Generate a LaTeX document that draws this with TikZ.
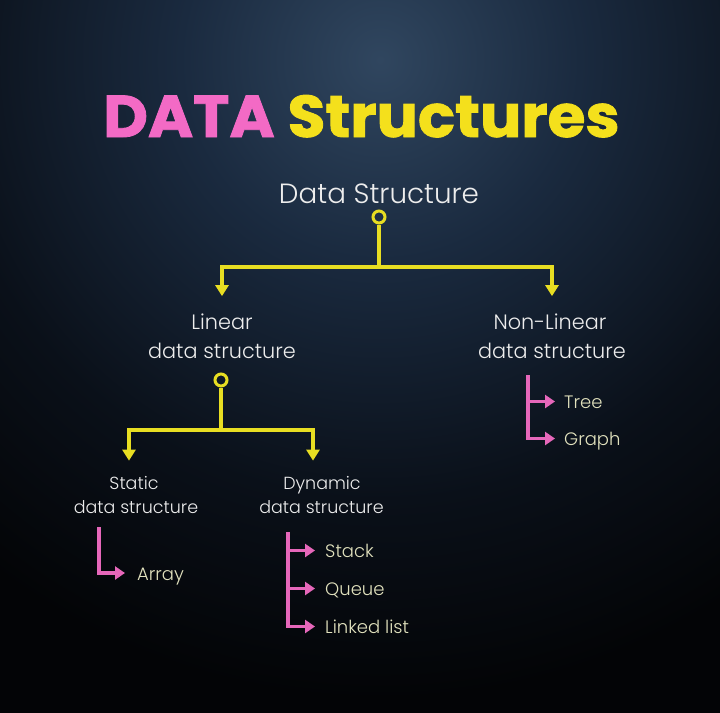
\documentclass[tikz,border=0pt]{standalone}
\usepackage{fontspec}
\setmainfont{Poppins Light}
\newfontfamily\titlefont{Poppins}[BoldFeatures={FakeBold=1.4}]
\usetikzlibrary{arrows.meta}
\definecolor{bgdark}{HTML}{030406}
\definecolor{bgd2}{HTML}{0A1019}
\definecolor{bgmid}{HTML}{1A2A3F}
\definecolor{bgtop}{HTML}{30465F}
\definecolor{tpink}{HTML}{F36AC5}
\definecolor{tyellow}{HTML}{F4E01C}
\definecolor{lyellow}{HTML}{E8DE22}
\definecolor{lpink}{HTML}{E667BA}
\definecolor{txt}{HTML}{EDEDED}
\definecolor{leaftxt}{HTML}{E2E2BE}
\pgfdeclareradialshading{bgshade}{\pgfpoint{0bp}{0bp}}{color(0bp)=(bgtop); color(5bp)=(bgmid); color(11bp)=(bgd2); color(16bp)=(bgdark); color(50bp)=(bgdark)}
\begin{document}
\begin{tikzpicture}[x=1pt,y=-1pt,
  big/.style={text=txt, inner sep=0pt, font=\fontsize{27.8}{32}\selectfont},
  mid/.style={text=txt, inner sep=0pt, font=\fontsize{20.8}{24}\selectfont},
  sml/.style={text=txt, inner sep=0pt, font=\fontsize{17.5}{20}\selectfont},
  leaf/.style={text=leaftxt, inner sep=0pt, anchor=base west, font=\fontsize{18}{20}\selectfont},
  dot/.style={circle, draw=lyellow, line width=3pt, minimum size=12pt, inner sep=0pt},
  yline/.style={draw=lyellow, line width=3.3pt},
  yarrow/.style={draw=lyellow, line width=3.3pt, -{Triangle[width=13pt,length=11pt]}},
  pline/.style={draw=lpink, line width=3.5pt},
  parrow/.style={draw=lpink, line width=3.5pt, -{Triangle[width=13pt,length=10pt]}}]
% background
\useasboundingbox (0,0) rectangle (720,712);
\fill[bgdark] (0,0) rectangle (720,712);
\begin{scope}
\clip (0,0) rectangle (720,712);
\shade[shading=bgshade] (380,60) circle (1000);
\end{scope}
% title
\node[anchor=base, inner sep=0pt, font=\fontsize{59}{62}\titlefont\bfseries] (title) at (361.5,137) {\scalebox{1.04}[1]{\textcolor{tpink}{DATA} \textcolor{tyellow}{Structures}}};
% root
\node[big, anchor=base] (root) at (379,203) {Data Structure};
\node[dot] (c0) at (379,217) {};
\coordinate (j0) at (379,267);
% level 1
\node[mid, anchor=base] (lin) at (222,329) {Linear};
\node[mid, anchor=base] (lin2) at (222,358) {data structure};
\node[mid, anchor=base] (nl) at (550,329) {Non-Linear};
\node[mid, anchor=base] (nl2) at (552,358) {data structure};
\draw[yline] (c0.south) -- (j0);
\draw[yarrow] (j0) -| ([yshift=17pt]lin.north);
\draw[yarrow] (j0) -| ([xshift=2pt,yshift=17pt]nl.north);
% level 2
\node[dot] (c1) at (221,380) {};
\coordinate (j1) at (221,430);
\node[sml, anchor=base] (sta) at (134,489) {Static};
\node[sml, anchor=base] (sta2) at (136,513) {data structure};
\node[sml, anchor=base] (dyn) at (322,489) {Dynamic};
\node[sml, anchor=base] (dyn2) at (321.5,513) {data structure};
\draw[yline] (c1.south) -- (j1);
\draw[yarrow] (j1) -| ([xshift=-5pt,yshift=15pt]sta.north);
\draw[yarrow] (j1) -| ([xshift=-9pt,yshift=15pt]dyn.north);
% leaves: static
\node[leaf] (arr) at (137,580) {Array};
\coordinate (pa) at (99,527);
\path ([xshift=-12pt,yshift=7pt]arr.base west) coordinate (arrt);
\draw[parrow] (pa) |- (arrt);
% leaves: dynamic
\node[leaf] (stk) at (325,557) {Stack};
\node[leaf] (que) at (325,595) {Queue};
\node[leaf] (lnk) at (325,633) {Linked list};
\coordinate (pd) at (288,532);
\path ([xshift=-10pt,yshift=6.5pt]stk.base west) coordinate (stkt);
\path ([xshift=-10pt,yshift=6.5pt]que.base west) coordinate (quet);
\path ([xshift=-10pt,yshift=6.5pt]lnk.base west) coordinate (lnkt);
\draw[parrow] (pd) |- (lnkt);
\draw[parrow] (pd |- stkt) -- (stkt);
\draw[parrow] (pd |- quet) -- (quet);
% leaves: non-linear
\node[leaf] (tre) at (564,408) {Tree};
\node[leaf] (gra) at (564,445) {Graph};
\coordinate (pn) at (528,375);
\path ([xshift=-9pt,yshift=6.5pt]tre.base west) coordinate (tret);
\path ([xshift=-9pt,yshift=6.5pt]gra.base west) coordinate (grat);
\draw[parrow] (pn) |- (grat);
\draw[parrow] (pn |- tret) -- (tret);
\end{tikzpicture}
\end{document}
